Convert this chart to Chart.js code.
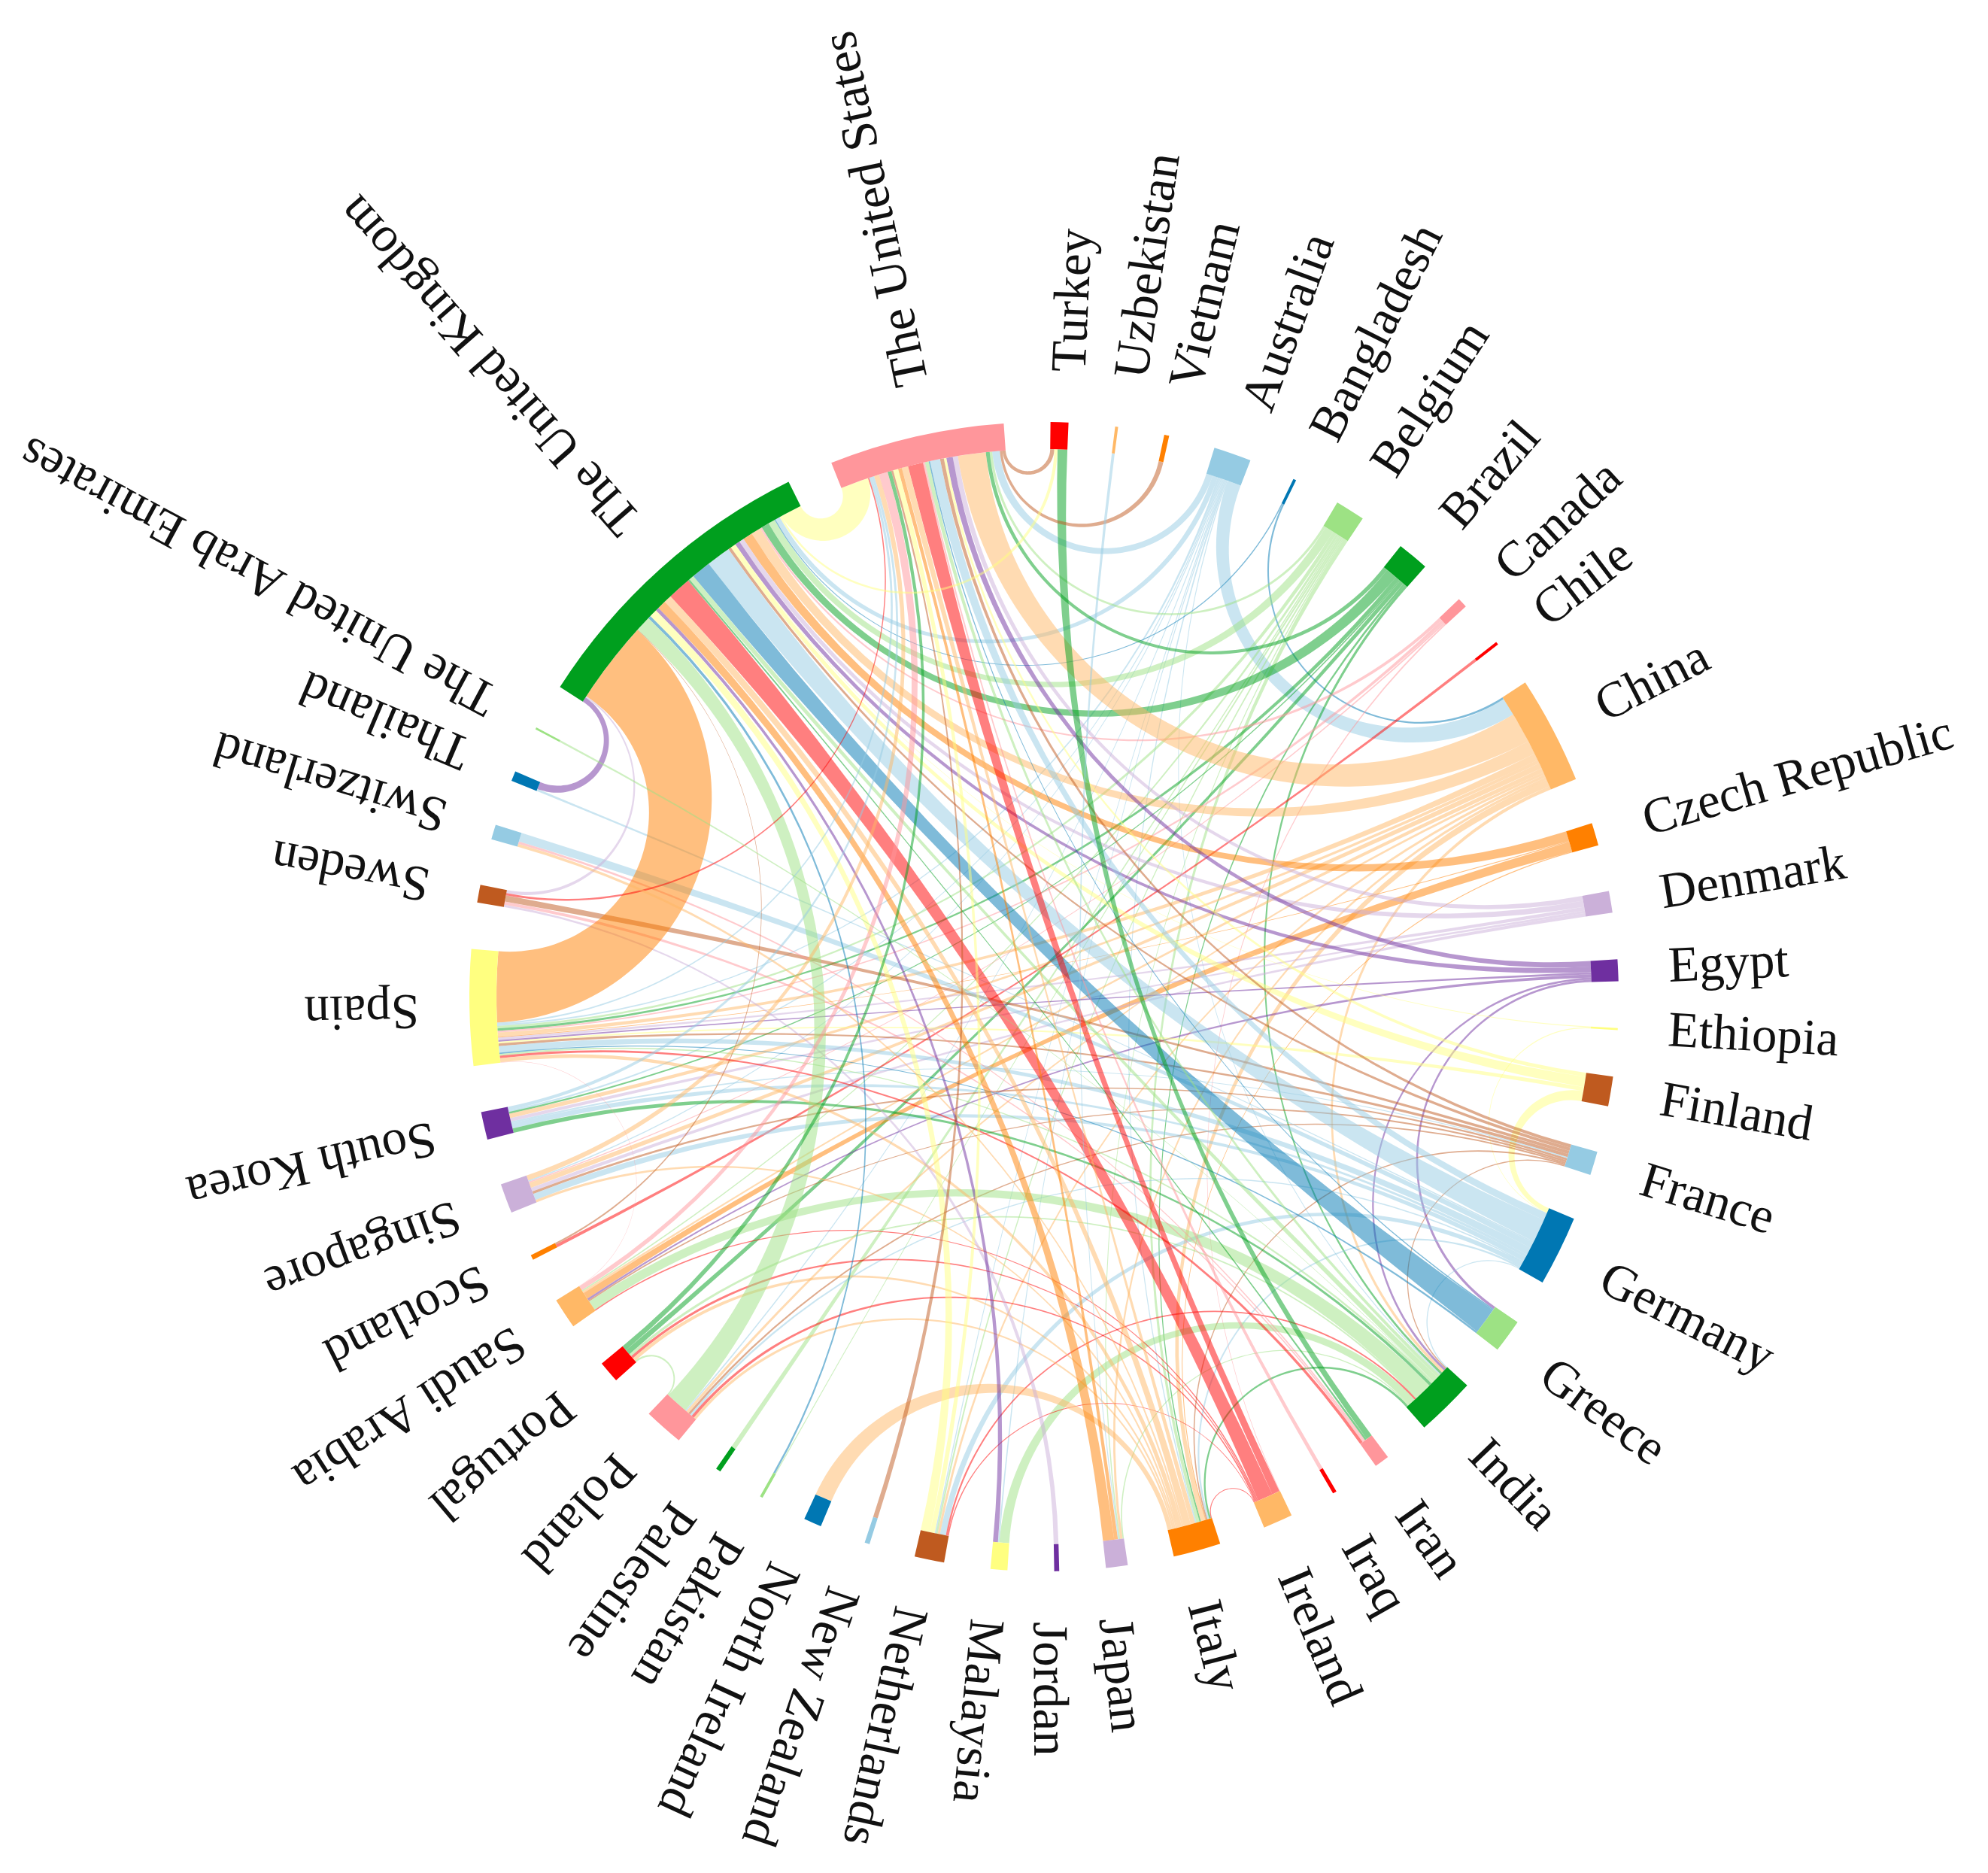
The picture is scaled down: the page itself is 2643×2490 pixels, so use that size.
<!DOCTYPE html>
<html>
<head>
<meta charset="utf-8">
<title>Chord diagram</title>
<script src="https://cdn.jsdelivr.net/npm/chart.js@4/dist/chart.umd.min.js"></script>
<style>
  html, body { margin: 0; background: #fff; }
  #wrap { width: 2643px; height: 2490px; }
</style>
</head>
<body>
<div id="wrap"><canvas id="mainChart" width="2643" height="2490"></canvas></div>
<script>
// countries in ring order, clockwise, starting from Australia
const countries = ['Australia', 'Bangladesh', 'Belgium', 'Brazil', 'Canada', 'Chile', 'China', 'Czech Republic', 'Denmark', 'Egypt', 'Ethiopia', 'Finland', 'France', 'Germany', 'Greece', 'India', 'Iran', 'Iraq', 'Ireland', 'Italy', 'Japan', 'Jordan', 'Malaysia', 'Netherlands', 'New Zealand', 'North Ireland', 'Pakistan', 'Palestine', 'Poland', 'Portugal', 'Saudi Arabia', 'Scotland', 'Singapore', 'South Korea', 'Spain', 'Sweden', 'Switzerland', 'Thailand', 'The United Arab Emirates', 'The United Kingdom', 'The United States', 'Turkey', 'Uzbekistan', 'Vietnam'];
const codes = ['AU', 'BD', 'BE', 'BR', 'CA', 'CL', 'CN', 'CZ', 'DK', 'EG', 'ET', 'FI', 'FR', 'DE', 'GR', 'IN', 'IR', 'IQ', 'IE', 'IT', 'JP', 'JO', 'MY', 'NL', 'NZ', 'NI', 'PK', 'PS', 'PL', 'PT', 'SA', 'SC', 'SG', 'KR', 'ES', 'SE', 'CH', 'TH', 'AE', 'GB', 'US', 'TR', 'UZ', 'VN'];
// ring share of every country
const totals = [3.8, 0.3, 3, 3.2, 1, 0.3, 10.9, 2.3, 2.2, 2.2, 0.2, 3, 2.4, 7.1, 3.4, 6, 1.5, 0.4, 3, 4.8, 2.2, 0.5, 1.7, 3, 0.5, 1.8, 0.3, 0.5, 4, 2.2, 3.1, 0.5, 3, 2.8, 11.7, 1.8, 1.5, 1, 0.2, 31, 17.7, 1.8, 0.3, 0.5];

// links per country: [other country, size]
const auLinks = [['CN', 1.3], ['US', 0.6], ['GB', 0.5], ['ES', 0.2], ['NL', 0.1], ['KR', 0.1], ['SG', 0.1], ['IT', 0.15], ['MY', 0.1], ['PL', 0.1], ['IN', 0.1]];
const bdLinks = [['CN', 0.15], ['GB', 0.1]];
const beLinks = [['GB', 0.7], ['IT', 0.35], ['ES', 0.3], ['NL', 0.15], ['PK', 0.15], ['PS', 0.1], ['US', 0.2], ['SA', 0.2], ['JP', 0.1]];
const brLinks = [['GB', 0.8], ['US', 0.3], ['ES', 0.3], ['PT', 0.3], ['KR', 0.1], ['IN', 0.2], ['IT', 0.15]];
const caLinks = [['ES', 0.2], ['SG', 0.1], ['GB', 0.2], ['IE', 0.1]];
const clLinks = [['SC', 0.1]];
const cnLinks = [['US', 2.2], ['GB', 1], ['ES', 0.5], ['IT', 0.5], ['SG', 0.4], ['SA', 0.3], ['KR', 0.25], ['NL', 0.2], ['JP', 0.2], ['IN', 0.25], ['PL', 0.2]];
const czLinks = [['GB', 1], ['SA', 1], ['IT', 0.1], ['ES', 0.1]];
const dkLinks = [['GB', 0.5], ['US', 0.4], ['ES', 0.3], ['KR', 0.2], ['SG', 0.3]];
const egLinks = [['GB', 0.5], ['US', 0.5], ['SA', 0.3], ['GR', 0.2], ['IN', 0.2], ['ES', 0.2]];
const etLinks = [['DE', 0.05], ['GB', 0.05]];
const fiLinks = [['DE', 0.5], ['GB', 0.5], ['ES', 0.2], ['US', 0.2]];
const frLinks = [['ES', 0.3], ['SE', 0.3], ['GB', 0.3], ['US', 0.3], ['SG', 0.2], ['SA', 0.2], ['IT', 0.15], ['PL', 0.15], ['KR', 0.1], ['IN', 0.1]];
const deLinks = [['GB', 2.5], ['US', 0.8], ['ES', 0.8], ['SG', 0.5], ['CH', 0.6], ['KR', 0.3], ['IT', 0.2], ['NL', 0.5], ['IN', 0.1], ['PL', 0.15], ['TH', 0.15]];
const grLinks = [['GB', 2], ['ES', 0.15], ['US', 0.1]];
const inLinks = [['SA', 1.5], ['MY', 0.7], ['GB', 0.5], ['US', 0.3], ['ES', 0.2], ['IT', 0.2], ['PT', 0.15], ['NL', 0.15], ['KR', 0.25], ['JP', 0.1]];
const irLinks = [['TR', 0.6], ['SE', 0.15], ['CH', 0.15], ['ES', 0.3], ['GB', 0.2]];
const iqLinks = [['US', 0.15]];
const ieLinks = [['GB', 2.4], ['US', 1.2], ['IT', 0.1], ['PL', 0.2], ['SA', 0.2], ['PT', 0.15], ['NL', 0.1]];
const itLinks = [['NI', 0.5], ['GB', 0.8], ['US', 0.5], ['ES', 0.5], ['PT', 0.2], ['PL', 0.2], ['SG', 0.2]];
const jpLinks = [['GB', 0.9], ['US', 0.3]];
const joLinks = [['SE', 0.1]];
const myLinks = [['GB', 0.35]];
const nlLinks = [['GB', 0.8], ['US', 0.4]];
const nzLinks = [['US', 0.15]];
const pkLinks = [['GB', 0.3]];
const plLinks = [['GB', 1.6], ['PT', 0.1]];
const ptLinks = [['US', 0.3]];
const saLinks = [['US', 0.7]];
const scLinks = [['GB', 0.05]];
const sgLinks = [['US', 0.4]];
const krLinks = [['US', 0.2]];
const esLinks = [['GB', 8.5], ['SA', 0.05], ['US', 0.2]];
const seLinks = [['GB', 0.15], ['US', 0.1]];
const chLinks = [['IT', 0.2]];
const thLinks = [['GB', 0.5]];
const aeLinks = [['IN', 0.05]];
const gbLinks = [['US', 2.2]];
const usLinks = [['TR', 0.25], ['VN', 0.2]];
const trLinks = [['GB', 0.2]];
const uzLinks = [['JP', 0.08]];

// palette slot of each link above, same order
const auTones = [0, 0, 0, 0, 0, 0, 0, 0, 0, 0, 0];
const bdTones = [1, 1];
const beTones = [2, 2, 2, 2, 2, 2, 2, 2, 2];
const brTones = [3, 3, 3, 3, 3, 3, 3];
const caTones = [4, 4, 4, 4];
const clTones = [5];
const cnTones = [6, 6, 6, 6, 6, 6, 6, 6, 6, 6, 6];
const czTones = [7, 7, 7, 7];
const dkTones = [8, 8, 8, 8, 8];
const egTones = [9, 9, 9, 9, 9, 9];
const etTones = [10, 10];
const fiTones = [10, 10, 10, 10];
const frTones = [11, 11, 11, 11, 11, 11, 11, 11, 0, 11];
const deTones = [0, 0, 0, 0, 0, 0, 0, 0, 0, 0, 0];
const grTones = [1, 1, 1];
const inTones = [2, 2, 2, 2, 2, 3, 2, 5, 3, 2];
const irTones = [3, 4, 4, 5, 3];
const iqTones = [4];
const ieTones = [5, 5, 5, 5, 5, 5, 5];
const itTones = [6, 6, 6, 6, 6, 6, 6];
const jpTones = [7, 7];
const joTones = [8];
const myTones = [9];
const nlTones = [10, 10];
const nzTones = [11];
const pkTones = [1];
const plTones = [2, 2];
const ptTones = [3];
const saTones = [4];
const scTones = [11];
const sgTones = [6];
const krTones = [0];
const esTones = [7, 4, 0];
const seTones = [8, 5];
const chTones = [6];
const thTones = [9];
const aeTones = [2];
const gbTones = [10];
const usTones = [11, 11];
const trTones = [10];
const uzTones = [0];

const palette = ['#95CBE3', '#0077B3', '#9DE284', '#009F1E', '#FF969B', '#FF0000', '#FFB866', '#FF8000', '#CBB0D9', '#6F2FA0', '#FFFF80', '#BF5A1F'];

const linkGroups = [
    ['AU', auLinks, auTones], ['BD', bdLinks, bdTones], ['BE', beLinks, beTones], ['BR', brLinks, brTones],
    ['CA', caLinks, caTones], ['CL', clLinks, clTones], ['CN', cnLinks, cnTones], ['CZ', czLinks, czTones],
    ['DK', dkLinks, dkTones], ['EG', egLinks, egTones], ['ET', etLinks, etTones], ['FI', fiLinks, fiTones],
    ['FR', frLinks, frTones], ['DE', deLinks, deTones], ['GR', grLinks, grTones], ['IN', inLinks, inTones],
    ['IR', irLinks, irTones], ['IQ', iqLinks, iqTones], ['IE', ieLinks, ieTones], ['IT', itLinks, itTones],
    ['JP', jpLinks, jpTones], ['JO', joLinks, joTones], ['MY', myLinks, myTones], ['NL', nlLinks, nlTones],
    ['NZ', nzLinks, nzTones], ['PK', pkLinks, pkTones], ['PL', plLinks, plTones], ['PT', ptLinks, ptTones],
    ['SA', saLinks, saTones], ['SC', scLinks, scTones], ['SG', sgLinks, sgTones], ['KR', krLinks, krTones],
    ['ES', esLinks, esTones], ['SE', seLinks, seTones], ['CH', chLinks, chTones], ['TH', thLinks, thTones],
    ['AE', aeLinks, aeTones], ['GB', gbLinks, gbTones], ['US', usLinks, usTones], ['TR', trLinks, trTones],
    ['UZ', uzLinks, uzTones]
];

const CENTER_X = 1388, CENTER_Y = 1325, OUTER_R = 764, RING_W = 36;
const LABEL_R = 831;
const LABEL_FONT = '67px "Liberation Serif"';
const LABEL_TURN = 1 * Math.PI / 180; // top and bottom labels sit a touch clockwise of their arc

// ring values: every country followed by an equal gap, in degrees
const gap = (360 - totals.reduce((a, b) => a + b, 0)) / totals.length;
const ringData = totals.flatMap(v => [v, gap]);
const ringColors = totals.flatMap((v, i) => [palette[i % 12], 'rgba(0,0,0,0)']);

// arc between two rim points that meets the rim at right angles
function rimCurve(ctx, x, y, r, from, to) {
    let d = (to - from) % (2 * Math.PI);
    if (d > Math.PI) d -= 2 * Math.PI;
    if (d < -Math.PI) d += 2 * Math.PI;
    const half = Math.abs(d) / 2;
    const bx = x + r * Math.cos(to), by = y + r * Math.sin(to);
    if (half < 0.0005 || half > 1.56) {
        ctx.lineTo(bx, by);
        return;
    }
    ctx.arcTo(x, y, bx, by, r * Math.tan(half));
}

const chordPlugin = {
    id: 'chords',
    beforeDatasetsDraw(chart) {
        const ctx = chart.ctx;
        const arcs = chart.getDatasetMeta(0).data;
        const nodes = totals.map((v, i) => arcs[i * 2]);
        const midOf = n => (n.startAngle + n.endAngle) / 2;
        const links = [];
        linkGroups.forEach(([code, list, tones]) => {
            list.forEach(([other, size], k) => {
                links.push({ a: codes.indexOf(code), b: codes.indexOf(other), size, tone: tones[k] });
            });
        });
        // lay link ends along each country's arc so they do not cross at the rim
        nodes.forEach((node, i) => {
            const ends = [];
            links.forEach(l => {
                if (l.a === i) ends.push({ l, key: 'A', other: l.b });
                if (l.b === i) ends.push({ l, key: 'B', other: l.a });
            });
            const full = 2 * Math.PI;
            const dist = j => (((midOf(nodes[j]) - midOf(node)) % full) + full) % full;
            ends.sort((p, q) => dist(q.other) - dist(p.other));
            const sum = ends.reduce((s, e) => s + e.l.size, 0);
            let at = node.startAngle;
            ends.forEach(e => {
                const w = (node.endAngle - node.startAngle) * e.l.size / sum;
                e.l['start' + e.key] = at;
                e.l['end' + e.key] = at + w;
                at += w;
            });
        });
        const first = nodes[0];
        const x = first.x, y = first.y, r = first.innerRadius;
        ctx.save();
        ctx.globalAlpha = 0.5;
        links.forEach(l => {
            ctx.beginPath();
            ctx.moveTo(x + r * Math.cos(l.startA), y + r * Math.sin(l.startA));
            ctx.arc(x, y, r, l.startA, l.endA);
            rimCurve(ctx, x, y, r, l.endA, l.startB);
            ctx.arc(x, y, r, l.startB, l.endB);
            rimCurve(ctx, x, y, r, l.endB, l.startA);
            ctx.closePath();
            ctx.fillStyle = palette[l.tone];
            ctx.fill();
        });
        ctx.restore();
    },
    afterDatasetsDraw(chart) {
        const ctx = chart.ctx;
        const arcs = chart.getDatasetMeta(0).data;
        ctx.save();
        ctx.font = LABEL_FONT;
        ctx.fillStyle = '#111';
        ctx.textAlign = 'left';
        ctx.textBaseline = 'middle';
        countries.forEach((name, i) => {
            const arc = arcs[i * 2];
            const mid = (arc.startAngle + arc.endAngle) / 2;
            const a = mid + LABEL_TURN * Math.abs(Math.sin(mid));
            ctx.save();
            ctx.translate(arc.x + LABEL_R * Math.cos(a), arc.y + LABEL_R * Math.sin(a));
            ctx.rotate(a);
            ctx.fillText(name, 0, 0);
            ctx.restore();
        });
        ctx.restore();
    }
};

new Chart(document.getElementById('mainChart'), {
    type: 'doughnut',
    data: {
        labels: countries.flatMap(c => [c, '']),
        datasets: [{
            data: ringData,
            backgroundColor: ringColors,
            borderWidth: 0
        }]
    },
    options: {
        responsive: false,
        animation: false,
        rotation: 17.25,
        cutout: OUTER_R - RING_W,
        layout: {
            padding: {
                left: CENTER_X - OUTER_R,
                right: 2643 - CENTER_X - OUTER_R,
                top: CENTER_Y - OUTER_R,
                bottom: 2490 - CENTER_Y - OUTER_R
            }
        },
        plugins: { legend: { display: false }, tooltip: { enabled: false } }
    },
    plugins: [chordPlugin]
});
</script>
</body>
</html>
